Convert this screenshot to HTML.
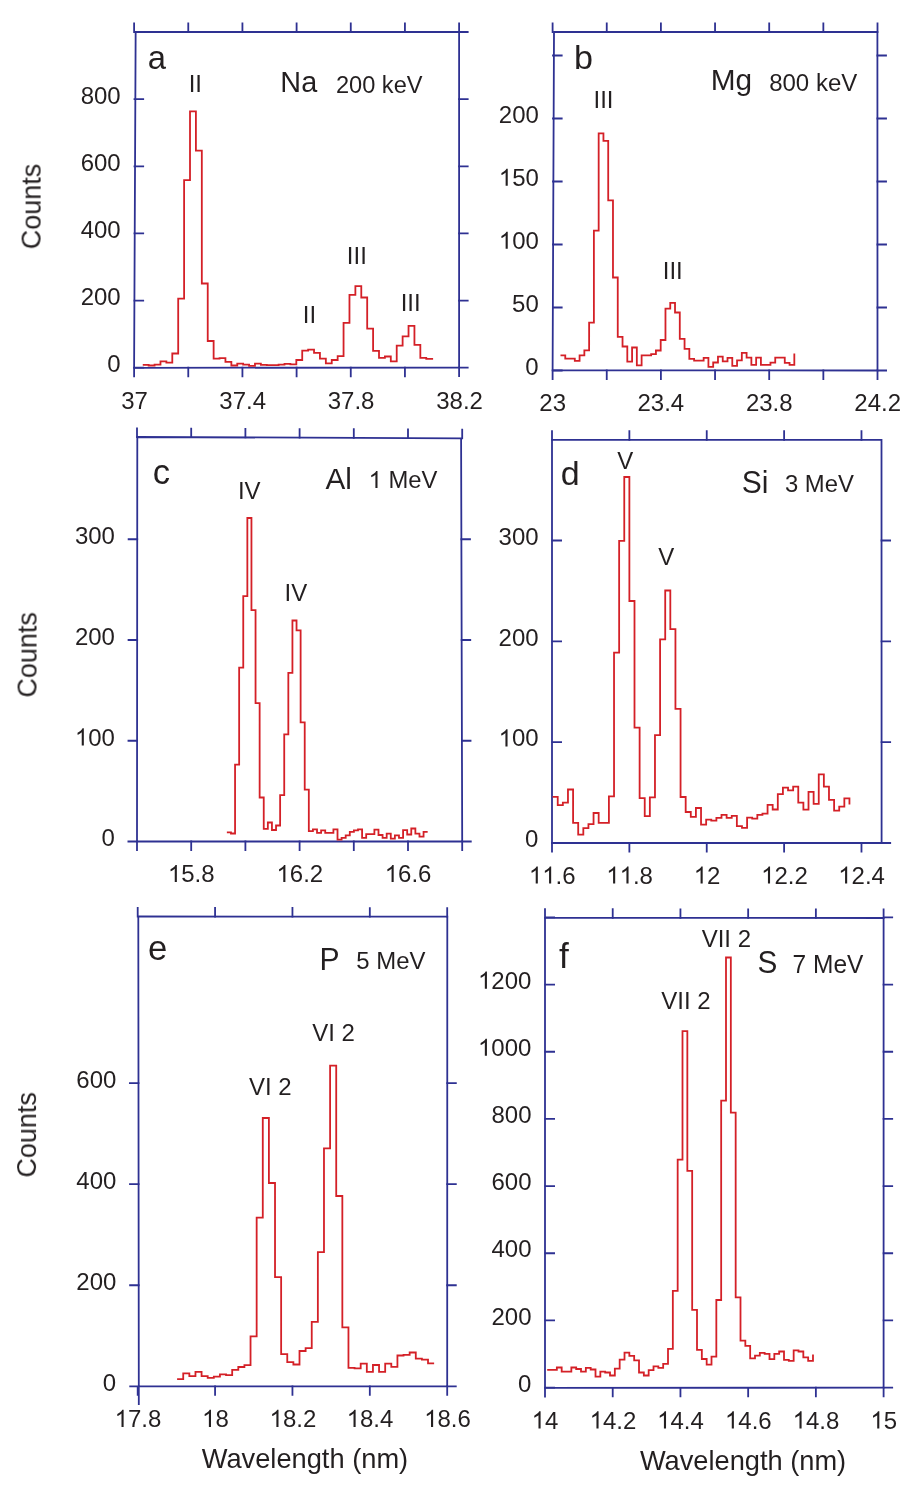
<!DOCTYPE html><html><head><meta charset="utf-8"><style>html,body{margin:0;padding:0;background:#fff;}svg{display:block;}text{font-family:'Liberation Sans', sans-serif;fill:#231f20;} g.t path{fill:#231f20;}</style></head><body>
<svg width="920" height="1492" viewBox="0 0 920 1492">
<rect width="920" height="1492" fill="#fff"/>
<path d="M135.65 32L459.1 32L459.1 367.6L134.1 367.8Z" fill="none" stroke="#2e3192" stroke-width="1.8" stroke-linejoin="miter"/>
<path d="M134.1 32.9V22.5M134.1 366.9V377.3M188.27 32.9V22.5M188.27 366.87V377.27M242.43 32.9V22.5M242.43 366.83V377.23M296.6 32.9V22.5M296.6 366.8V377.2M350.77 32.9V22.5M350.77 366.77V377.17M404.93 32.9V22.5M404.93 366.73V377.13M459.1 32.9V22.5M459.1 366.7V377.1M133.6 367.7H144.1M458.2 367.7H468.6M133.6 300.56H144.1M458.2 300.56H468.6M133.6 233.42H144.1M458.2 233.42H468.6M133.6 166.28H144.1M458.2 166.28H468.6M133.6 99.14H144.1M458.2 99.14H468.6M133.6 32H144.1M458.2 32H468.6" fill="none" stroke="#2e3192" stroke-width="1.8" stroke-linecap="butt" stroke-linejoin="miter"/>
<path d="M142.76 364.9 L148.67 364.9 L148.67 365.5 L154.57 365.5 L154.57 364.6 L160.48 364.6 L160.48 361.3 L166.38 361.3 L166.38 362.7 L172.29 362.7 L172.29 353.5 L178.2 353.5 L178.2 298.6 L184.1 298.6 L184.1 180.1 L190.01 180.1 L190.01 111.4 L195.91 111.4 L195.91 150.6 L201.82 150.6 L201.82 283.5 L207.73 283.5 L207.73 341 L213.63 341 L213.63 358.6 L219.54 358.6 L219.54 358.2 L225.44 358.2 L225.44 361.8 L231.35 361.8 L231.35 365.5 L237.26 365.5 L237.26 363.7 L243.16 363.7 L243.16 364.6 L249.07 364.6 L249.07 365.9 L254.97 365.9 L254.97 363.7 L260.88 363.7 L260.88 364.8 L266.79 364.8 L266.79 365.2 L272.69 365.2 L272.69 365.2 L278.6 365.2 L278.6 364.6 L284.5 364.6 L284.5 363.9 L290.41 363.9 L290.41 364.3 L296.32 364.3 L296.32 360 L302.22 360 L302.22 350.6 L308.13 350.6 L308.13 349.6 L314.03 349.6 L314.03 352.8 L319.94 352.8 L319.94 358.7 L325.85 358.7 L325.85 363.3 L331.75 363.3 L331.75 360 L337.66 360 L337.66 356.1 L343.56 356.1 L343.56 322.8 L349.47 322.8 L349.47 294.8 L355.38 294.8 L355.38 286.1 L361.28 286.1 L361.28 297.5 L367.19 297.5 L367.19 328.7 L373.09 328.7 L373.09 350.8 L379 350.8 L379 357.8 L384.91 357.8 L384.91 356.5 L390.81 356.5 L390.81 361.3 L396.72 361.3 L396.72 345.7 L402.62 345.7 L402.62 336.3 L408.53 336.3 L408.53 325.8 L414.44 325.8 L414.44 344.8 L420.34 344.8 L420.34 357.8 L426.25 357.8 L426.25 358.9 L433.1 358.9" fill="none" stroke="#d42027" stroke-width="1.8" stroke-linejoin="miter"/>
<path d="M554 32L877.4 32L877.5 370.5L552.6 370.4Z" fill="none" stroke="#2e3192" stroke-width="1.8" stroke-linejoin="miter"/>
<path d="M552.6 32.9V22.5M552.6 369.5V379.9M606.75 32.9V22.5M606.75 369.52V379.92M660.9 32.9V22.5M660.9 369.53V379.93M715.05 32.9V22.5M715.05 369.55V379.95M769.2 32.9V22.5M769.2 369.57V379.97M823.35 32.9V22.5M823.35 369.58V379.98M877.5 32.9V22.5M877.5 369.6V380M552.1 370.5H562.6M876.6 370.5H887M552.1 307.5H562.6M876.58 307.5H886.98M552.1 244.5H562.6M876.56 244.5H886.96M552.1 181.5H562.6M876.54 181.5H886.94M552.1 118.5H562.6M876.53 118.5H886.93M552.1 55.5H562.6M876.51 55.5H886.91" fill="none" stroke="#2e3192" stroke-width="1.8" stroke-linecap="butt" stroke-linejoin="miter"/>
<path d="M560.49 355.3 L565.26 355.3 L565.26 358.7 L570.03 358.7 L570.03 358.7 L574.81 358.7 L574.81 360.9 L579.58 360.9 L579.58 355.3 L584.35 355.3 L584.35 350.3 L589.12 350.3 L589.12 322.7 L593.89 322.7 L593.89 230.6 L598.67 230.6 L598.67 133.4 L603.44 133.4 L603.44 140.9 L608.21 140.9 L608.21 200.4 L612.98 200.4 L612.98 277.5 L617.75 277.5 L617.75 336.9 L622.53 336.9 L622.53 346.5 L627.3 346.5 L627.3 361.7 L632.07 361.7 L632.07 347.5 L636.84 347.5 L636.84 365.4 L641.61 365.4 L641.61 355.3 L646.39 355.3 L646.39 355.3 L651.16 355.3 L651.16 354.1 L655.93 354.1 L655.93 350.5 L660.7 350.5 L660.7 340 L665.47 340 L665.47 308.7 L670.25 308.7 L670.25 302.9 L675.02 302.9 L675.02 312.5 L679.79 312.5 L679.79 338.9 L684.56 338.9 L684.56 348.9 L689.33 348.9 L689.33 358.9 L694.11 358.9 L694.11 360.7 L698.88 360.7 L698.88 360.7 L703.65 360.7 L703.65 357.8 L708.42 357.8 L708.42 366.8 L713.19 366.8 L713.19 362.5 L717.97 362.5 L717.97 356.7 L722.74 356.7 L722.74 361.4 L727.51 361.4 L727.51 357.8 L732.28 357.8 L732.28 365.8 L737.05 365.8 L737.05 360.4 L741.83 360.4 L741.83 352.9 L746.6 352.9 L746.6 357.6 L751.37 357.6 L751.37 364.8 L756.14 364.8 L756.14 357.6 L760.91 357.6 L760.91 364.8 L765.69 364.8 L765.69 364.8 L770.46 364.8 L770.46 362.6 L775.23 362.6 L775.23 357.6 L780 357.6 L780 357.6 L784.77 357.6 L784.77 362.8 L789.55 362.8 L789.55 364.8 L794.32 364.8 L794.32 353.5" fill="none" stroke="#d42027" stroke-width="1.8" stroke-linejoin="miter"/>
<path d="M137.3 437L461.1 438.3L462.2 841.5L137 841.5Z" fill="none" stroke="#2e3192" stroke-width="1.8" stroke-linejoin="miter"/>
<path d="M137 437.9V427.5M137 840.6V851M191.2 438.12V427.72M191.2 840.6V851M245.4 438.33V427.93M245.4 840.6V851M299.6 438.55V428.15M299.6 840.6V851M353.8 438.77V428.37M353.8 840.6V851M408 438.99V428.59M408 840.6V851M462.2 439.2V428.8M462.2 840.6V851M137.9 841.5H127.5M461.3 841.5H471.7M137.97 740.75H127.57M461.03 740.75H471.43M138.05 640H127.65M460.75 640H471.15M138.12 539.25H127.72M460.48 539.25H470.88" fill="none" stroke="#2e3192" stroke-width="1.8" stroke-linecap="butt" stroke-linejoin="miter"/>
<path d="M226.86 832.3 L230.96 832.3 L230.96 833.5 L235.06 833.5 L235.06 764.7 L239.15 764.7 L239.15 667.6 L243.25 667.6 L243.25 596.1 L247.35 596.1 L247.35 518 L251.45 518 L251.45 610.2 L255.55 610.2 L255.55 703.2 L259.64 703.2 L259.64 797.5 L263.74 797.5 L263.74 828.9 L267.84 828.9 L267.84 822.5 L271.94 822.5 L271.94 830 L276.04 830 L276.04 825.5 L280.13 825.5 L280.13 795.2 L284.23 795.2 L284.23 734.4 L288.33 734.4 L288.33 672.9 L292.43 672.9 L292.43 620.5 L296.53 620.5 L296.53 630.3 L300.62 630.3 L300.62 722.3 L304.72 722.3 L304.72 789.7 L308.82 789.7 L308.82 831.2 L312.92 831.2 L312.92 829.4 L317.02 829.4 L317.02 832.8 L321.11 832.8 L321.11 830.4 L325.21 830.4 L325.21 832.8 L329.31 832.8 L329.31 832.8 L333.41 832.8 L333.41 829.4 L337.51 829.4 L337.51 839.6 L341.6 839.6 L341.6 837.9 L345.7 837.9 L345.7 835.3 L349.8 835.3 L349.8 831.8 L353.9 831.8 L353.9 830.4 L358 830.4 L358 829.4 L362.09 829.4 L362.09 837.9 L366.19 837.9 L366.19 834.2 L370.29 834.2 L370.29 834.2 L374.39 834.2 L374.39 829.7 L378.49 829.7 L378.49 835 L382.58 835 L382.58 837.8 L386.68 837.8 L386.68 833.7 L390.78 833.7 L390.78 838.6 L394.88 838.6 L394.88 835.3 L398.98 835.3 L398.98 837.8 L403.07 837.8 L403.07 830.2 L407.17 830.2 L407.17 834.5 L411.27 834.5 L411.27 828.5 L415.37 828.5 L415.37 833.7 L419.47 833.7 L419.47 836.7 L423.56 836.7 L423.56 831.8 L427.66 831.8" fill="none" stroke="#d42027" stroke-width="1.8" stroke-linejoin="miter"/>
<path d="M552 439.8L881.5 439.8L881.6 843L552 843Z" fill="none" stroke="#2e3192" stroke-width="1.8" stroke-linejoin="miter"/>
<path d="M552 440.7V430.3M552 842.1V852.5M629.37 440.7V430.3M629.37 842.1V852.5M706.74 440.7V430.3M706.74 842.1V852.5M784.11 440.7V430.3M784.11 842.1V852.5M861.48 440.7V430.3M861.48 842.1V852.5M551.5 843H562M880.7 843H891.1M551.5 742.17H562M880.67 742.17H891.07M551.5 641.34H562M880.65 641.34H891.05M551.5 540.51H562M880.62 540.51H891.02" fill="none" stroke="#2e3192" stroke-width="1.8" stroke-linecap="butt" stroke-linejoin="miter"/>
<path d="M552.61 796.8 L557.73 796.8 L557.73 805.2 L562.85 805.2 L562.85 802.6 L567.96 802.6 L567.96 789.5 L573.08 789.5 L573.08 822.9 L578.2 822.9 L578.2 834.7 L583.32 834.7 L583.32 828.1 L588.44 828.1 L588.44 824.2 L593.55 824.2 L593.55 813 L598.67 813 L598.67 822.9 L603.79 822.9 L603.79 822.9 L608.91 822.9 L608.91 796.3 L614.03 796.3 L614.03 652.7 L619.14 652.7 L619.14 540.9 L624.26 540.9 L624.26 477 L629.38 477 L629.38 601 L634.5 601 L634.5 727.6 L639.62 727.6 L639.62 798.1 L644.73 798.1 L644.73 816.2 L649.85 816.2 L649.85 797.3 L654.97 797.3 L654.97 735.1 L660.09 735.1 L660.09 639.4 L665.21 639.4 L665.21 590.5 L670.32 590.5 L670.32 629.1 L675.44 629.1 L675.44 708.8 L680.56 708.8 L680.56 797 L685.68 797 L685.68 812 L690.8 812 L690.8 816.8 L695.91 816.8 L695.91 808 L701.03 808 L701.03 824.6 L706.15 824.6 L706.15 819.7 L711.27 819.7 L711.27 820.7 L716.39 820.7 L716.39 817.8 L721.5 817.8 L721.5 814.9 L726.62 814.9 L726.62 817.8 L731.74 817.8 L731.74 815.8 L736.86 815.8 L736.86 826.1 L741.98 826.1 L741.98 827.8 L747.09 827.8 L747.09 817.7 L752.21 817.7 L752.21 818.6 L757.33 818.6 L757.33 814.8 L762.45 814.8 L762.45 813.7 L767.57 813.7 L767.57 804.9 L772.68 804.9 L772.68 809.5 L777.8 809.5 L777.8 794.2 L782.92 794.2 L782.92 787.6 L788.04 787.6 L788.04 790.4 L793.16 790.4 L793.16 786.6 L798.27 786.6 L798.27 802.7 L803.39 802.7 L803.39 809.7 L808.51 809.7 L808.51 791.8 L813.63 791.8 L813.63 803.8 L818.75 803.8 L818.75 774.4 L823.86 774.4 L823.86 786.6 L828.98 786.6 L828.98 799.8 L834.1 799.8 L834.1 810.6 L839.22 810.6 L839.22 806.6 L844.34 806.6 L844.34 798.4 L849.45 798.4 L849.45 804.5" fill="none" stroke="#d42027" stroke-width="1.8" stroke-linejoin="miter"/>
<path d="M138.3 916.5L447.3 916.7L447.2 1386.3L138.8 1386.3Z" fill="none" stroke="#2e3192" stroke-width="1.8" stroke-linejoin="miter"/>
<path d="M138.8 1386.3L138.8 1404.9M137.7 917.4V907M137.7 1385.4V1395.8M215.07 917.45V907.05M215.07 1385.4V1395.8M292.45 917.5V907.1M292.45 1385.4V1395.8M369.82 917.55V907.15M369.82 1385.4V1395.8M447.2 917.6V907.2M447.2 1385.4V1395.8M139.7 1386.3H129.3M446.3 1386.3H456.7M139.59 1285.25H129.19M446.32 1285.25H456.72M139.48 1184.2H129.08M446.34 1184.2H456.74M139.38 1083.15H128.98M446.36 1083.15H456.76" fill="none" stroke="#2e3192" stroke-width="1.8" stroke-linecap="butt" stroke-linejoin="miter"/>
<path d="M177.1 1379.1 L183.22 1379.1 L183.22 1373.3 L189.34 1373.3 L189.34 1376.2 L195.46 1376.2 L195.46 1371.8 L201.58 1371.8 L201.58 1376.2 L207.7 1376.2 L207.7 1377.9 L213.82 1377.9 L213.82 1376.6 L219.94 1376.6 L219.94 1374.3 L226.06 1374.3 L226.06 1375.2 L232.18 1375.2 L232.18 1369.9 L238.3 1369.9 L238.3 1367 L244.42 1367 L244.42 1365.1 L250.54 1365.1 L250.54 1336.4 L256.66 1336.4 L256.66 1217.6 L262.78 1217.6 L262.78 1118 L268.9 1118 L268.9 1183 L275.02 1183 L275.02 1277.2 L281.14 1277.2 L281.14 1354.2 L287.26 1354.2 L287.26 1362.2 L293.38 1362.2 L293.38 1364.5 L299.5 1364.5 L299.5 1351 L305.62 1351 L305.62 1348.1 L311.74 1348.1 L311.74 1321.8 L317.86 1321.8 L317.86 1252.1 L323.98 1252.1 L323.98 1148.3 L330.1 1148.3 L330.1 1065.6 L336.22 1065.6 L336.22 1196 L342.34 1196 L342.34 1327.4 L348.46 1327.4 L348.46 1367.9 L354.58 1367.9 L354.58 1368.3 L360.7 1368.3 L360.7 1363.7 L366.82 1363.7 L366.82 1371.8 L372.94 1371.8 L372.94 1365 L379.06 1365 L379.06 1371.8 L385.18 1371.8 L385.18 1363.7 L391.3 1363.7 L391.3 1366.9 L397.42 1366.9 L397.42 1355.5 L403.54 1355.5 L403.54 1354.9 L409.66 1354.9 L409.66 1352.5 L415.78 1352.5 L415.78 1358.6 L421.9 1358.6 L421.9 1359.6 L428.02 1359.6 L428.02 1363.3 L434.14 1363.3" fill="none" stroke="#d42027" stroke-width="1.8" stroke-linejoin="miter"/>
<path d="M545 917.8L883.6 918L883.6 1387.7L545 1387.9Z" fill="none" stroke="#2e3192" stroke-width="1.8" stroke-linejoin="miter"/>
<path d="M545 918.7V908.3M545 1387V1397.4M612.72 918.74V908.34M612.72 1386.96V1397.36M680.44 918.78V908.38M680.44 1386.92V1397.32M748.16 918.82V908.42M748.16 1386.88V1397.28M815.88 918.86V908.46M815.88 1386.84V1397.24M883.6 918.9V908.5M883.6 1386.8V1397.2M544.5 1387.6H555M882.7 1387.6H893.1M544.5 1320.43H555M882.7 1320.43H893.1M544.5 1253.26H555M882.7 1253.26H893.1M544.5 1186.09H555M882.7 1186.09H893.1M544.5 1118.92H555M882.7 1118.92H893.1M544.5 1051.75H555M882.7 1051.75H893.1M544.5 984.58H555M882.7 984.58H893.1M544.5 917.41H555M882.7 917.41H893.1" fill="none" stroke="#2e3192" stroke-width="1.8" stroke-linecap="butt" stroke-linejoin="miter"/>
<path d="M547.18 1369.8 L552.01 1369.8 L552.01 1369.8 L556.85 1369.8 L556.85 1367.5 L561.68 1367.5 L561.68 1371.7 L566.51 1371.7 L566.51 1371.7 L571.34 1371.7 L571.34 1367.5 L576.18 1367.5 L576.18 1369 L581.01 1369 L581.01 1371.7 L585.84 1371.7 L585.84 1367.9 L590.68 1367.9 L590.68 1369.5 L595.51 1369.5 L595.51 1376.6 L600.34 1376.6 L600.34 1371.7 L605.18 1371.7 L605.18 1372.5 L610.01 1372.5 L610.01 1375.5 L614.84 1375.5 L614.84 1368.7 L619.67 1368.7 L619.67 1359.6 L624.51 1359.6 L624.51 1352.7 L629.34 1352.7 L629.34 1355.8 L634.17 1355.8 L634.17 1360.3 L639.01 1360.3 L639.01 1372.5 L643.84 1372.5 L643.84 1375.5 L648.67 1375.5 L648.67 1370.2 L653.51 1370.2 L653.51 1366.4 L658.34 1366.4 L658.34 1367.9 L663.17 1367.9 L663.17 1363.8 L668 1363.8 L668 1348.9 L672.84 1348.9 L672.84 1290.9 L677.67 1290.9 L677.67 1159.6 L682.5 1159.6 L682.5 1031.2 L687.34 1031.2 L687.34 1170.9 L692.17 1170.9 L692.17 1309.8 L697 1309.8 L697 1349.8 L701.84 1349.8 L701.84 1359 L706.67 1359 L706.67 1364.6 L711.5 1364.6 L711.5 1356.7 L716.33 1356.7 L716.33 1300 L721.17 1300 L721.17 1100.7 L726 1100.7 L726 957.5 L730.83 957.5 L730.83 1112.7 L735.67 1112.7 L735.67 1297.4 L740.5 1297.4 L740.5 1340.7 L745.33 1340.7 L745.33 1345.9 L750.17 1345.9 L750.17 1358.4 L755 1358.4 L755 1355.7 L759.83 1355.7 L759.83 1352.8 L764.66 1352.8 L764.66 1353.8 L769.5 1353.8 L769.5 1359.1 L774.33 1359.1 L774.33 1353.8 L779.16 1353.8 L779.16 1351.5 L784 1351.5 L784 1359.9 L788.83 1359.9 L788.83 1360.9 L793.66 1360.9 L793.66 1350.3 L798.5 1350.3 L798.5 1351.5 L803.33 1351.5 L803.33 1357.4 L808.16 1357.4 L808.16 1360.9 L812.99 1360.9 L812.99 1354.4" fill="none" stroke="#d42027" stroke-width="1.8" stroke-linejoin="miter"/>
<g class="t" opacity="0.999">
<g transform="translate(147.78 68.75)"><text font-size="32.79">a</text></g>
<g transform="translate(188.7 92.4) scale(1 1.03)"><text font-size="24">II</text></g>
<g transform="translate(280.35 91.9) scale(1 1.015)"><text font-size="28.82">Na</text></g>
<g transform="translate(335.88 92.57) scale(1 1.015)"><text font-size="23.63">200 keV</text></g>
<g transform="translate(302.75 322.5) scale(1 1.03)"><text font-size="24">II</text></g>
<g transform="translate(346.8 263.7) scale(1 1.03)"><text font-size="24">III</text></g>
<g transform="translate(400.7 311.05) scale(1 1.03)"><text font-size="24">III</text></g>
<g transform="translate(573.98 69.2)"><text font-size="34.13">b</text></g>
<g transform="translate(593.5 107.75) scale(1 1.03)"><text font-size="24">III</text></g>
<g transform="translate(710.75 90.45) scale(1 1.015)"><text font-size="29.84">Mg</text></g>
<g transform="translate(769.15 90.95) scale(1 1.015)"><text font-size="24.03">800 keV</text></g>
<g transform="translate(662.75 279.05) scale(1 1.03)"><text font-size="24">III</text></g>
<g transform="translate(152.82 484.3)"><text font-size="34.61">c</text></g>
<g transform="translate(237.92 498.7) scale(1 1.03)"><text font-size="24">IV</text></g>
<g transform="translate(325.45 488.55) scale(1 1.015)"><text font-size="29.72">Al</text></g>
<g transform="translate(368.62 487.98) scale(1 1.015)"><text font-size="23.84">  MeV</text><path d="M763 0.0L583 0.0L583 1122.4C540 1082.3 483 1042.2 413 1002.0C343 961.9 280 931.6 224 911.0L224 1081.3C325 1127.3 413 1184.0 488 1250.6C564 1317.1 617 1381.7 649 1444.3L763 1444.3Z" transform="translate(0 0) scale(0.01164 -0.01164)"/></g>
<g transform="translate(284.62 600.9) scale(1 1.03)"><text font-size="24">IV</text></g>
<g transform="translate(560.83 484.68)"><text font-size="34.01">d</text></g>
<g transform="translate(617.3 468.75) scale(1 1.03)"><text font-size="24">V</text></g>
<g transform="translate(741.72 492.85) scale(1 1.015)"><text font-size="30.07">Si</text></g>
<g transform="translate(784.92 492.32) scale(1 1.015)"><text font-size="23.89">3 MeV</text></g>
<g transform="translate(658.15 564.8) scale(1 1.03)"><text font-size="24">V</text></g>
<g transform="translate(148.12 960.2)"><text font-size="34.71">e</text></g>
<g transform="translate(319.5 969.75) scale(1 1.03)"><text font-size="30.13">P</text></g>
<g transform="translate(356.25 969.1) scale(1 1.015)"><text font-size="23.94">5 MeV</text></g>
<g transform="translate(248.88 1094.72) scale(1 1.03)"><text font-size="24">VI 2</text></g>
<g transform="translate(312.17 1040.58) scale(1 1.03)"><text font-size="24">VI 2</text></g>
<g transform="translate(558.95 967.7)"><text font-size="35.28">f</text></g>
<g transform="translate(661.3 1009.38) scale(1 1.03)"><text font-size="24">VII 2</text></g>
<g transform="translate(701.7 947.08) scale(1 1.03)"><text font-size="24">VII 2</text></g>
<g transform="translate(757.45 972.58) scale(1 1.03)"><text font-size="29.76">S</text></g>
<g transform="translate(792.58 972.65) scale(1 1.015)"><text font-size="24.52">7 MeV</text></g>
<g transform="translate(40.6 249.27) rotate(-90)"><text font-size="27">Counts</text></g>
<g transform="translate(36.55 697.62) rotate(-90)"><text font-size="27">Counts</text></g>
<g transform="translate(36.05 1177.62) rotate(-90)"><text font-size="27">Counts</text></g>
<g transform="translate(201.7 1468.1)"><text font-size="27.25">Wavelength (nm)</text></g>
<g transform="translate(639.92 1469.8)"><text font-size="27.22">Wavelength (nm)</text></g>
<g transform="translate(107.15 372.1) scale(1 1.03)"><text font-size="24">0</text></g>
<g transform="translate(80.65 304.96) scale(1 1.03)"><text font-size="24">200</text></g>
<g transform="translate(80.65 237.82) scale(1 1.03)"><text font-size="24">400</text></g>
<g transform="translate(80.65 170.68) scale(1 1.03)"><text font-size="24">600</text></g>
<g transform="translate(80.65 103.54) scale(1 1.03)"><text font-size="24">800</text></g>
<g transform="translate(121.2 408.8) scale(1 1.03)"><text font-size="24">37</text></g>
<g transform="translate(219.28 408.8) scale(1 1.03)"><text font-size="24">37.4</text></g>
<g transform="translate(327.74 408.8) scale(1 1.03)"><text font-size="24">37.8</text></g>
<g transform="translate(436.2 408.8) scale(1 1.03)"><text font-size="24">38.2</text></g>
<g transform="translate(525.3 374.85) scale(1 1.03)"><text font-size="24">0</text></g>
<g transform="translate(512.05 311.85) scale(1 1.03)"><text font-size="24">50</text></g>
<g transform="translate(498.8 248.85) scale(1 1.03)"><text font-size="24"> 00</text><path d="M763 0.0L583 0.0L583 1106.0C540 1066.5 483 1027.0 413 987.4C343 947.9 280 918.0 224 897.8L224 1065.5C325 1110.9 413 1166.8 488 1232.4C564 1297.9 617 1361.6 649 1423.3L763 1423.3Z" transform="translate(0 0) scale(0.01172 -0.01172)"/></g>
<g transform="translate(498.8 185.85) scale(1 1.03)"><text font-size="24"> 50</text><path d="M763 0.0L583 0.0L583 1106.0C540 1066.5 483 1027.0 413 987.4C343 947.9 280 918.0 224 897.8L224 1065.5C325 1110.9 413 1166.8 488 1232.4C564 1297.9 617 1361.6 649 1423.3L763 1423.3Z" transform="translate(0 0) scale(0.01172 -0.01172)"/></g>
<g transform="translate(498.8 122.85) scale(1 1.03)"><text font-size="24">200</text></g>
<g transform="translate(539.3 411.35) scale(1 1.03)"><text font-size="24">23</text></g>
<g transform="translate(637.48 411.35) scale(1 1.03)"><text font-size="24">23.4</text></g>
<g transform="translate(745.9 411.35) scale(1 1.03)"><text font-size="24">23.8</text></g>
<g transform="translate(854.33 411.35) scale(1 1.03)"><text font-size="24">24.2</text></g>
<g transform="translate(101.4 846.3) scale(1 1.03)"><text font-size="24">0</text></g>
<g transform="translate(74.9 745.55) scale(1 1.03)"><text font-size="24"> 00</text><path d="M763 0.0L583 0.0L583 1106.0C540 1066.5 483 1027.0 413 987.4C343 947.9 280 918.0 224 897.8L224 1065.5C325 1110.9 413 1166.8 488 1232.4C564 1297.9 617 1361.6 649 1423.3L763 1423.3Z" transform="translate(0 0) scale(0.01172 -0.01172)"/></g>
<g transform="translate(74.9 644.8) scale(1 1.03)"><text font-size="24">200</text></g>
<g transform="translate(74.9 544.05) scale(1 1.03)"><text font-size="24">300</text></g>
<g transform="translate(167.92 882.1) scale(1 1.03)"><text font-size="24"> 5.8</text><path d="M763 0.0L583 0.0L583 1106.0C540 1066.5 483 1027.0 413 987.4C343 947.9 280 918.0 224 897.8L224 1065.5C325 1110.9 413 1166.8 488 1232.4C564 1297.9 617 1361.6 649 1423.3L763 1423.3Z" transform="translate(0 0) scale(0.01172 -0.01172)"/></g>
<g transform="translate(276.45 882.1) scale(1 1.03)"><text font-size="24"> 6.2</text><path d="M763 0.0L583 0.0L583 1106.0C540 1066.5 483 1027.0 413 987.4C343 947.9 280 918.0 224 897.8L224 1065.5C325 1110.9 413 1166.8 488 1232.4C564 1297.9 617 1361.6 649 1423.3L763 1423.3Z" transform="translate(0 0) scale(0.01172 -0.01172)"/></g>
<g transform="translate(384.73 882.1) scale(1 1.03)"><text font-size="24"> 6.6</text><path d="M763 0.0L583 0.0L583 1106.0C540 1066.5 483 1027.0 413 987.4C343 947.9 280 918.0 224 897.8L224 1065.5C325 1110.9 413 1166.8 488 1232.4C564 1297.9 617 1361.6 649 1423.3L763 1423.3Z" transform="translate(0 0) scale(0.01172 -0.01172)"/></g>
<g transform="translate(525.1 847.24) scale(1 1.03)"><text font-size="24">0</text></g>
<g transform="translate(498.6 746.41) scale(1 1.03)"><text font-size="24"> 00</text><path d="M763 0.0L583 0.0L583 1106.0C540 1066.5 483 1027.0 413 987.4C343 947.9 280 918.0 224 897.8L224 1065.5C325 1110.9 413 1166.8 488 1232.4C564 1297.9 617 1361.6 649 1423.3L763 1423.3Z" transform="translate(0 0) scale(0.01172 -0.01172)"/></g>
<g transform="translate(498.6 645.58) scale(1 1.03)"><text font-size="24">200</text></g>
<g transform="translate(498.6 544.75) scale(1 1.03)"><text font-size="24">300</text></g>
<g transform="translate(528.88 883.6) scale(1 1.03)"><text font-size="24">  .6</text><path d="M763 0.0L583 0.0L583 1106.0C540 1066.5 483 1027.0 413 987.4C343 947.9 280 918.0 224 897.8L224 1065.5C325 1110.9 413 1166.8 488 1232.4C564 1297.9 617 1361.6 649 1423.3L763 1423.3Z" transform="translate(0 0) scale(0.01172 -0.01172)"/><path d="M763 0.0L583 0.0L583 1106.0C540 1066.5 483 1027.0 413 987.4C343 947.9 280 918.0 224 897.8L224 1065.5C325 1110.9 413 1166.8 488 1232.4C564 1297.9 617 1361.6 649 1423.3L763 1423.3Z" transform="translate(13.35 0) scale(0.01172 -0.01172)"/></g>
<g transform="translate(606.25 883.6) scale(1 1.03)"><text font-size="24">  .8</text><path d="M763 0.0L583 0.0L583 1106.0C540 1066.5 483 1027.0 413 987.4C343 947.9 280 918.0 224 897.8L224 1065.5C325 1110.9 413 1166.8 488 1232.4C564 1297.9 617 1361.6 649 1423.3L763 1423.3Z" transform="translate(0 0) scale(0.01172 -0.01172)"/><path d="M763 0.0L583 0.0L583 1106.0C540 1066.5 483 1027.0 413 987.4C343 947.9 280 918.0 224 897.8L224 1065.5C325 1110.9 413 1166.8 488 1232.4C564 1297.9 617 1361.6 649 1423.3L763 1423.3Z" transform="translate(13.35 0) scale(0.01172 -0.01172)"/></g>
<g transform="translate(693.74 883.6) scale(1 1.03)"><text font-size="24"> 2</text><path d="M763 0.0L583 0.0L583 1106.0C540 1066.5 483 1027.0 413 987.4C343 947.9 280 918.0 224 897.8L224 1065.5C325 1110.9 413 1166.8 488 1232.4C564 1297.9 617 1361.6 649 1423.3L763 1423.3Z" transform="translate(0 0) scale(0.01172 -0.01172)"/></g>
<g transform="translate(761.11 883.6) scale(1 1.03)"><text font-size="24"> 2.2</text><path d="M763 0.0L583 0.0L583 1106.0C540 1066.5 483 1027.0 413 987.4C343 947.9 280 918.0 224 897.8L224 1065.5C325 1110.9 413 1166.8 488 1232.4C564 1297.9 617 1361.6 649 1423.3L763 1423.3Z" transform="translate(0 0) scale(0.01172 -0.01172)"/></g>
<g transform="translate(838.23 883.6) scale(1 1.03)"><text font-size="24"> 2.4</text><path d="M763 0.0L583 0.0L583 1106.0C540 1066.5 483 1027.0 413 987.4C343 947.9 280 918.0 224 897.8L224 1065.5C325 1110.9 413 1166.8 488 1232.4C564 1297.9 617 1361.6 649 1423.3L763 1423.3Z" transform="translate(0 0) scale(0.01172 -0.01172)"/></g>
<g transform="translate(102.8 1391.45) scale(1 1.03)"><text font-size="24">0</text></g>
<g transform="translate(76.3 1290.4) scale(1 1.03)"><text font-size="24">200</text></g>
<g transform="translate(76.3 1189.35) scale(1 1.03)"><text font-size="24">400</text></g>
<g transform="translate(76.3 1088.3) scale(1 1.03)"><text font-size="24">600</text></g>
<g transform="translate(114.67 1426.9) scale(1 1.03)"><text font-size="24"> 7.8</text><path d="M763 0.0L583 0.0L583 1106.0C540 1066.5 483 1027.0 413 987.4C343 947.9 280 918.0 224 897.8L224 1065.5C325 1110.9 413 1166.8 488 1232.4C564 1297.9 617 1361.6 649 1423.3L763 1423.3Z" transform="translate(0 0) scale(0.01172 -0.01172)"/></g>
<g transform="translate(202.05 1426.9) scale(1 1.03)"><text font-size="24"> 8</text><path d="M763 0.0L583 0.0L583 1106.0C540 1066.5 483 1027.0 413 987.4C343 947.9 280 918.0 224 897.8L224 1065.5C325 1110.9 413 1166.8 488 1232.4C564 1297.9 617 1361.6 649 1423.3L763 1423.3Z" transform="translate(0 0) scale(0.01172 -0.01172)"/></g>
<g transform="translate(269.55 1426.9) scale(1 1.03)"><text font-size="24"> 8.2</text><path d="M763 0.0L583 0.0L583 1106.0C540 1066.5 483 1027.0 413 987.4C343 947.9 280 918.0 224 897.8L224 1065.5C325 1110.9 413 1166.8 488 1232.4C564 1297.9 617 1361.6 649 1423.3L763 1423.3Z" transform="translate(0 0) scale(0.01172 -0.01172)"/></g>
<g transform="translate(346.68 1426.9) scale(1 1.03)"><text font-size="24"> 8.4</text><path d="M763 0.0L583 0.0L583 1106.0C540 1066.5 483 1027.0 413 987.4C343 947.9 280 918.0 224 897.8L224 1065.5C325 1110.9 413 1166.8 488 1232.4C564 1297.9 617 1361.6 649 1423.3L763 1423.3Z" transform="translate(0 0) scale(0.01172 -0.01172)"/></g>
<g transform="translate(424.18 1426.9) scale(1 1.03)"><text font-size="24"> 8.6</text><path d="M763 0.0L583 0.0L583 1106.0C540 1066.5 483 1027.0 413 987.4C343 947.9 280 918.0 224 897.8L224 1065.5C325 1110.9 413 1166.8 488 1232.4C564 1297.9 617 1361.6 649 1423.3L763 1423.3Z" transform="translate(0 0) scale(0.01172 -0.01172)"/></g>
<g transform="translate(518 1391.7) scale(1 1.03)"><text font-size="24">0</text></g>
<g transform="translate(491.5 1324.53) scale(1 1.03)"><text font-size="24">200</text></g>
<g transform="translate(491.5 1257.36) scale(1 1.03)"><text font-size="24">400</text></g>
<g transform="translate(491.5 1190.19) scale(1 1.03)"><text font-size="24">600</text></g>
<g transform="translate(491.5 1123.02) scale(1 1.03)"><text font-size="24">800</text></g>
<g transform="translate(478 1055.85) scale(1 1.03)"><text font-size="24"> 000</text><path d="M763 0.0L583 0.0L583 1106.0C540 1066.5 483 1027.0 413 987.4C343 947.9 280 918.0 224 897.8L224 1065.5C325 1110.9 413 1166.8 488 1232.4C564 1297.9 617 1361.6 649 1423.3L763 1423.3Z" transform="translate(0 0) scale(0.01172 -0.01172)"/></g>
<g transform="translate(478 988.68) scale(1 1.03)"><text font-size="24"> 200</text><path d="M763 0.0L583 0.0L583 1106.0C540 1066.5 483 1027.0 413 987.4C343 947.9 280 918.0 224 897.8L224 1065.5C325 1110.9 413 1166.8 488 1232.4C564 1297.9 617 1361.6 649 1423.3L763 1423.3Z" transform="translate(0 0) scale(0.01172 -0.01172)"/></g>
<g transform="translate(531.65 1428.5) scale(1 1.03)"><text font-size="24"> 4</text><path d="M763 0.0L583 0.0L583 1106.0C540 1066.5 483 1027.0 413 987.4C343 947.9 280 918.0 224 897.8L224 1065.5C325 1110.9 413 1166.8 488 1232.4C564 1297.9 617 1361.6 649 1423.3L763 1423.3Z" transform="translate(0 0) scale(0.01172 -0.01172)"/></g>
<g transform="translate(589.62 1428.5) scale(1 1.03)"><text font-size="24"> 4.2</text><path d="M763 0.0L583 0.0L583 1106.0C540 1066.5 483 1027.0 413 987.4C343 947.9 280 918.0 224 897.8L224 1065.5C325 1110.9 413 1166.8 488 1232.4C564 1297.9 617 1361.6 649 1423.3L763 1423.3Z" transform="translate(0 0) scale(0.01172 -0.01172)"/></g>
<g transform="translate(657.09 1428.5) scale(1 1.03)"><text font-size="24"> 4.4</text><path d="M763 0.0L583 0.0L583 1106.0C540 1066.5 483 1027.0 413 987.4C343 947.9 280 918.0 224 897.8L224 1065.5C325 1110.9 413 1166.8 488 1232.4C564 1297.9 617 1361.6 649 1423.3L763 1423.3Z" transform="translate(0 0) scale(0.01172 -0.01172)"/></g>
<g transform="translate(724.94 1428.5) scale(1 1.03)"><text font-size="24"> 4.6</text><path d="M763 0.0L583 0.0L583 1106.0C540 1066.5 483 1027.0 413 987.4C343 947.9 280 918.0 224 897.8L224 1065.5C325 1110.9 413 1166.8 488 1232.4C564 1297.9 617 1361.6 649 1423.3L763 1423.3Z" transform="translate(0 0) scale(0.01172 -0.01172)"/></g>
<g transform="translate(792.65 1428.5) scale(1 1.03)"><text font-size="24"> 4.8</text><path d="M763 0.0L583 0.0L583 1106.0C540 1066.5 483 1027.0 413 987.4C343 947.9 280 918.0 224 897.8L224 1065.5C325 1110.9 413 1166.8 488 1232.4C564 1297.9 617 1361.6 649 1423.3L763 1423.3Z" transform="translate(0 0) scale(0.01172 -0.01172)"/></g>
<g transform="translate(870.38 1428.5) scale(1 1.03)"><text font-size="24"> 5</text><path d="M763 0.0L583 0.0L583 1106.0C540 1066.5 483 1027.0 413 987.4C343 947.9 280 918.0 224 897.8L224 1065.5C325 1110.9 413 1166.8 488 1232.4C564 1297.9 617 1361.6 649 1423.3L763 1423.3Z" transform="translate(0 0) scale(0.01172 -0.01172)"/></g>
</g>
</svg></body></html>
